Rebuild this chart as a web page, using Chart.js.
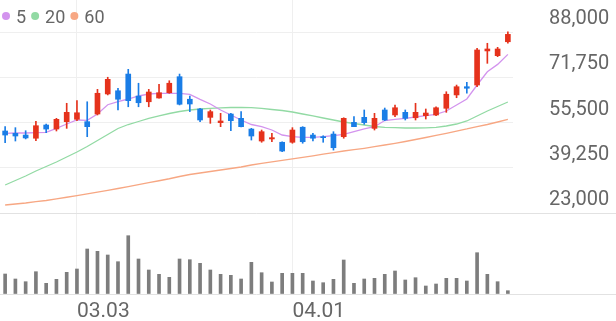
<!DOCTYPE html>
<html>
<head>
<meta charset="utf-8">
<script src="https://cdn.jsdelivr.net/npm/chart.js@4/dist/chart.umd.min.js"></script>
<style>
  html, body { margin: 0; padding: 0; background: #fff; }
</style>
</head>
<body>
<canvas id="chart" width="616" height="321"></canvas>
<script>
// trading days (MM.DD)
const dates = ['02.19','02.22','02.23','02.24','02.25','02.26','03.02','03.03','03.04','03.05',
  '03.08','03.09','03.10','03.11','03.12','03.15','03.16','03.17','03.18','03.19',
  '03.22','03.23','03.24','03.25','03.26','03.29','03.30','03.31','04.01','04.02',
  '04.05','04.06','04.07','04.08','04.09','04.12','04.13','04.14','04.15','04.16',
  '04.19','04.20','04.21','04.22','04.23','04.26','04.27','04.28','04.29','04.30'];
const tickDates = ['03.03', '04.01'];
const priceTicks = [23000, 39250, 55500, 71750, 88000];

const open = [52450, 51600, 51000, 49850, 54600, 53150, 55800, 56650, 55800, 58550,
  65750, 66900, 72900, 65000, 62950, 64300, 66200, 71950, 63850, 60350,
  57350, 55450, 58550, 57000, 53150, 48850, 49600, 48400, 48400, 53800,
  51000, 50400, 51350, 50400, 55550, 57350, 53400, 60000, 58200, 59150,
  57200, 57950, 58200, 60600, 65400, 68350, 68950, 81200, 79500, 84500];
const high = [54000, 53650, 52550, 55950, 54950, 57000, 62400, 63350, 62950, 67400,
  71750, 67800, 74600, 69600, 67400, 69200, 70500, 72900, 65000, 60600,
  60000, 58800, 58800, 59400, 53400, 52800, 51600, 48600, 53650, 54000,
  51600, 50750, 52200, 57200, 57600, 60000, 58800, 60700, 61800, 60000,
  62400, 60350, 61150, 66550, 68950, 69950, 82150, 83950, 82500, 88100];
const low = [48250, 48850, 49600, 48950, 51850, 52450, 53400, 56150, 50400, 58200,
  65400, 60000, 61150, 61150, 61150, 64200, 66000, 61800, 59400, 55800,
  55200, 54000, 52550, 53900, 49200, 48400, 48600, 45000, 48050, 48050,
  48850, 48400, 45600, 49850, 54000, 54850, 52800, 56150, 57600, 56400,
  56400, 56750, 57950, 59150, 64400, 66000, 68350, 76750, 79150, 83950];
const close = [51000, 50650, 49950, 54350, 53150, 56650, 59150, 59000, 54000, 66000,
  71000, 63850, 63350, 62600, 66450, 66200, 69600, 62050, 62150, 56400,
  59400, 56050, 56150, 54000, 50650, 52200, 50050, 45250, 52800, 48600,
  49850, 50050, 46450, 57000, 54000, 55450, 57000, 56400, 60800, 57000,
  59150, 58900, 60800, 65650, 68350, 67800, 81550, 81900, 81900, 87150];
const volume = [400000, 300000, 246000, 446000, 214000, 294000, 434000, 500000, 900000, 854000,
  780000, 646000, 1166000, 700000, 480000, 394000, 334000, 700000, 686000, 614000,
  480000, 394000, 374000, 300000, 634000, 426000, 240000, 414000, 414000, 414000,
  260000, 226000, 294000, 680000, 214000, 300000, 314000, 394000, 460000, 280000,
  326000, 160000, 200000, 314000, 314000, 260000, 826000, 394000, 246000, 66000];
const ma5 = [51620, 51730, 51730, 51840, 51980, 53420, 54960, 56400, 56290, 58550,
  61890, 62970, 63940, 65020, 65740, 65990, 65990, 65990, 65630, 63830,
  62150, 59990, 58190, 56400, 54780, 53990, 52810, 51010, 50400, 50190,
  50190, 50400, 50760, 51260, 52200, 53170, 53990, 56200, 56650, 57010,
  57480, 57940, 58450, 59630, 61790, 63940, 68970, 73720, 76370, 79970];
const ma20 = [33060, 34670, 36290, 38080, 39700, 41320, 43110, 44910, 46880, 49040,
  51190, 53350, 54780, 55860, 56940, 57840, 58730, 59450, 59990, 60350,
  60600, 60780, 60890, 60890, 60820, 60600, 60170, 59810, 59270, 58550,
  57840, 57120, 56400, 55680, 55140, 54600, 54060, 53780, 53630, 53530,
  53530, 53600, 53780, 54240, 54960, 56040, 57840, 59630, 61250, 62860];
const ma60 = [25870, 26230, 26590, 27060, 27490, 28080, 28650, 29250, 29860, 30480,
  31130, 31800, 32480, 33170, 33870, 34580, 35300, 36110, 36830, 37370,
  37900, 38440, 38980, 39520, 40240, 40850, 41390, 41930, 42470, 43000,
  43540, 44120, 44660, 45270, 45730, 46240, 46810, 47420, 48030, 48680,
  49400, 50110, 50900, 51620, 52380, 53170, 54060, 54780, 55680, 56650];

const UP = '#e5321c', DOWN = '#1a7de6', VOL = '#7d7d7d';
const C5 = '#d394ee', C20 = '#92daa4', C60 = '#f7a783';
const GRID = '#efefef', SEP = '#e2e2e2', TEXT = '#666666';
const FONT = { family: 'Roboto', size: 20 };
const VOL_MAX = 1620000;

const candleColors = close.map((c, i) => (c >= open[i] ? UP : DOWN));

function maLine(label, data, color) {
  return {
    type: 'line', label: label, data: data, yAxisID: 'y', order: 1,
    borderColor: color, backgroundColor: color, borderWidth: 1.3,
    pointRadius: 0, tension: 0
  };
}

// legend of the moving averages, drawn in a row over the top-left of the plot
const maLegend = {
  id: 'maLegend',
  afterDraw(chart) {
    const ctx = chart.ctx;
    ctx.save();
    ctx.font = '18px Roboto';
    ctx.textBaseline = 'middle';
    let x = 2;
    chart.data.datasets.filter(d => d.type === 'line').forEach(d => {
      ctx.fillStyle = d.borderColor;
      ctx.beginPath();
      ctx.arc(x + 4, 16, 4, 0, Math.PI * 2);
      ctx.fill();
      ctx.fillStyle = TEXT;
      ctx.fillText(d.label, x + 14, 18.5);
      x += 14 + ctx.measureText(d.label).width + 5;
    });
    ctx.restore();
  }
};

new Chart(document.getElementById('chart'), {
  type: 'bar',
  data: {
    labels: dates,
    datasets: [
      { label: 'body', data: open.map((o, i) => [o, close[i]]), yAxisID: 'y', order: 0,
        backgroundColor: candleColors, barThickness: 5, minBarLength: 1, grouped: false },
      { label: 'wick', data: low.map((l, i) => [l, high[i]]), yAxisID: 'y', order: 0,
        backgroundColor: candleColors, barThickness: 1, grouped: false },
      { label: 'volume', data: volume, yAxisID: 'vol', order: 0,
        backgroundColor: VOL, barThickness: 3, grouped: false },
      maLine('5', ma5, C5),
      maLine('20', ma20, C20),
      maLine('60', ma60, C60)
    ]
  },
  plugins: [maLegend],
  options: {
    responsive: false,
    animation: false,
    layout: { padding: 0 },
    plugins: {
      tooltip: { enabled: false },
      legend: { display: false }
    },
    scales: {
      x: {
        grid: { color: GRID, offset: false, drawTicks: false },
        border: { display: false },
        afterBuildTicks: s => { s.ticks = s.ticks.filter(t => tickDates.includes(dates[t.value])); },
        ticks: { autoSkip: false, maxRotation: 0, align: 'start', padding: 5, color: TEXT,
                 font: { family: 'Roboto', size: 21 } },
        afterFit: s => { s.height = 27; s.paddingLeft = 0; s.paddingRight = 0; }
      },
      y: {
        position: 'right', stack: 'main', stackWeight: 213,
        min: 23000, max: 99493,
        afterBuildTicks: s => { s.ticks = priceTicks.map(v => ({ value: v })); },
        grid: { color: GRID, drawTicks: false },
        border: { display: false },
        ticks: { autoSkip: false, labelOffset: -13, padding: 36, color: TEXT, font: FONT,
                 callback: v => v.toLocaleString('en-US') },
        afterFit: s => { s.width = 103; s.paddingTop = 0; s.paddingBottom = 0; }
      },
      vol: {
        position: 'right', stack: 'main', stackWeight: 81,
        min: 0, max: VOL_MAX,
        afterBuildTicks: s => { s.ticks = [{ value: 0 }, { value: VOL_MAX }]; },
        grid: { color: SEP, drawTicks: true, tickLength: 103, tickColor: SEP },
        border: { display: false },
        ticks: { display: false },
        afterFit: s => { s.width = 103; s.paddingTop = 0; s.paddingBottom = 0; }
      }
    }
  }
});
</script>
</body>
</html>
